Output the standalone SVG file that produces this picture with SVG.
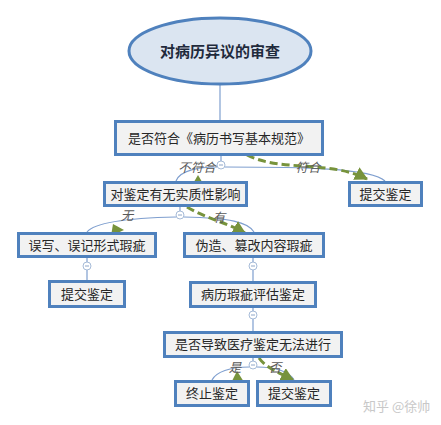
<svg xmlns="http://www.w3.org/2000/svg" width="441" height="425" viewBox="0 0 441 425">
<defs>
<style>
.box{fill:#f2f2f2;stroke:#4f81bd;stroke-width:3}
.t{font-family:"Noto Sans CJK SC","Noto Sans",sans-serif;font-size:13px;fill:#262626;text-anchor:middle}
.lbl{font-family:"Noto Sans CJK SC","Noto Sans",sans-serif;font-size:12.5px;fill:#595959;font-style:italic;text-anchor:middle}
.ln{fill:none;stroke:#7f9fcf;stroke-width:1.2}
.dash{fill:none;stroke:#77933c;stroke-width:3;stroke-dasharray:8,4}
.cc{fill:#fff;stroke:#a6bbd8;stroke-width:1}
.cm{stroke:#8ea6c8;stroke-width:1}
.ah{fill:#77933c}
</style>
<marker id="arr" markerUnits="userSpaceOnUse" markerWidth="14" markerHeight="14" refX="12" refY="7" orient="auto">
<path d="M0,0 L13,7 L0,14 Z" fill="#77933c"/>
</marker>
</defs>
<rect width="441" height="425" fill="#fff"/>

<g id="connectors">
<path class="ln" d="M220,85 V120"/>
<path class="ln" d="M221,156 V161"/>
<path class="ln" d="M217,167 C200,167 180,170 176,181"/>
<path class="ln" d="M225,167 C300,167 372,168 385,181"/>
<path class="ln" d="M180,207 V211"/>
<path class="ln" d="M176,217 C130,218 95,222 87,232"/>
<path class="ln" d="M184,217 C230,218 248,222 254,232"/>
<path class="ln" d="M87,258 V262 M87,270 V280"/>
<path class="ln" d="M253,258 V262 M253,270 V281"/>
<path class="ln" d="M253,308 V311 M253,319 V331"/>
<path class="ln" d="M253,358 V361"/>
<path class="ln" d="M249,367 C230,367 216,372 212,380"/>
<path class="ln" d="M257,367 C276,367 290,372 294,380"/>
<g id="collapse">
<circle class="cc" cx="221" cy="165" r="4"/><path class="cm" d="M219,165 H223"/>
<circle class="cc" cx="180" cy="215" r="4"/><path class="cm" d="M178,215 H182"/>
<circle class="cc" cx="87" cy="266" r="4"/><path class="cm" d="M85,266 H89"/>
<circle class="cc" cx="253" cy="266" r="4"/><path class="cm" d="M251,266 H255"/>
<circle class="cc" cx="253" cy="315" r="4"/><path class="cm" d="M251,315 H255"/>
<circle class="cc" cx="253" cy="365" r="4"/><path class="cm" d="M251,365 H255"/>
</g>
<path class="dash" d="M247,155 C280,172 330,160 367,179" marker-end="url(#arr)"/>
<path class="dash" d="M187,207 C205,218 225,222 245,233" marker-end="url(#arr)"/>
<path class="dash" d="M259,358 C266,368 280,373 293,380" marker-end="url(#arr)"/>
<polygon class="ah" points="198,175 191,187 205,187"/>
<polygon class="ah" points="111,236 113,224 124,230"/>
<polygon class="ah" points="237,371 231,383 244,382"/>
<text class="lbl" x="197" y="172">不符合</text>
<text class="lbl" x="308" y="172">符合</text>
<text class="lbl" x="127" y="220">无</text>
<text class="lbl" x="219" y="222">有</text>
<text class="lbl" x="235" y="372">是</text>
<text class="lbl" x="275" y="372">否</text>
</g>

<g id="root">
<ellipse cx="220" cy="51" rx="91" ry="33" fill="#dbe5f1" stroke="#4f81bd" stroke-width="3"/>
<text class="t" x="220" y="56.5" style="font-size:15px;font-weight:bold;fill:#1f2a3c">对病历异议的审查</text>
</g>
<g id="n1"><rect class="box" x="115.5" y="121.5" width="207" height="33"/><text class="t" x="219" y="142.5">是否符合《病历书写基本规范》</text></g>
<g id="n2"><rect class="box" x="104.5" y="182.5" width="142" height="23"/><text class="t" x="175.5" y="198.5">对鉴定有无实质性影响</text></g>
<g id="n3"><rect class="box" x="349.5" y="182.5" width="72" height="23"/><text class="t" x="385.5" y="198.5">提交鉴定</text></g>
<g id="n4"><rect class="box" x="18.5" y="233.5" width="137" height="23"/><text class="t" x="87" y="249.5">误写、误记形式瑕疵</text></g>
<g id="n5"><rect class="box" x="184.5" y="233.5" width="139" height="23"/><text class="t" x="254" y="249.5">伪造、篡改内容瑕疵</text></g>
<g id="n6"><rect class="box" x="49.5" y="281.5" width="75" height="25"/><text class="t" x="87" y="298.5">提交鉴定</text></g>
<g id="n7"><rect class="box" x="190.5" y="282.5" width="125" height="24"/><text class="t" x="253" y="299">病历瑕疵评估鉴定</text></g>
<g id="n8"><rect class="box" x="164.5" y="332.5" width="177" height="24"/><text class="t" x="253" y="349">是否导致医疗鉴定无法进行</text></g>
<g id="n9"><rect class="box" x="175.5" y="381.5" width="73" height="24"/><text class="t" x="212" y="398">终止鉴定</text></g>
<g id="n10"><rect class="box" x="257.5" y="381.5" width="73" height="24"/><text class="t" x="294" y="398">提交鉴定</text></g>

<text x="363" y="411" style="font-family:'Noto Sans CJK SC','Noto Sans',sans-serif;font-size:13px;fill:#c8c8c8">知乎 @徐帅</text>
</svg>
